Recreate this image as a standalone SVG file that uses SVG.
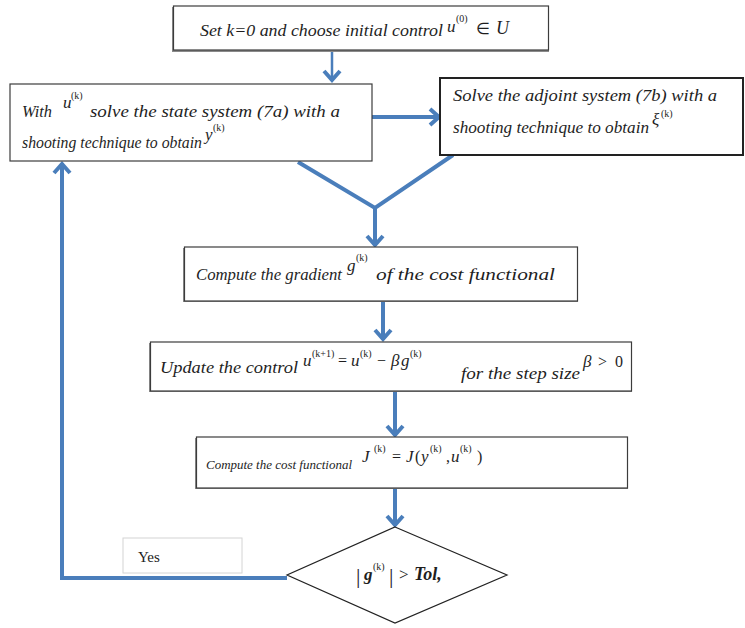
<svg xmlns="http://www.w3.org/2000/svg" width="745" height="628" viewBox="0 0 745 628">
  <defs>
    <style>
      .box{fill:#ffffff;stroke:#3c3c3c;stroke-width:1.2}
      .shadow{fill:#8a8a8a}
      .t{font-family:"Liberation Serif","Times New Roman",serif;font-style:italic;font-size:16px;fill:#1e1e1e}
      .m{font-family:"Liberation Serif","Times New Roman",serif;font-size:16px;fill:#1e1e1e}
      .mi{font-family:"Liberation Serif","Times New Roman",serif;font-style:italic;font-size:17px;fill:#1e1e1e}
      .sup{font-family:"Liberation Serif","Times New Roman",serif;font-size:10px;fill:#1e1e1e}
      .yes{font-family:"Liberation Serif","Times New Roman",serif;font-size:15px;fill:#222}
      .c{fill:none;stroke:#4A7EBB;stroke-width:4;stroke-linejoin:miter}
    </style>
    <marker id="arrow" markerUnits="userSpaceOnUse" viewBox="-14 -10 16 20" refX="0" refY="0" markerWidth="16" markerHeight="20" orient="auto">
      <path d="M-10,-8 L-1,0 L-10,8" fill="none" stroke="#4A7EBB" stroke-width="4"/>
    </marker>
  </defs>

  <!-- connectors -->
  <g id="connectors">
    <line class="c" x1="332" y1="50" x2="332" y2="81" style="stroke-width:2.5" marker-end="url(#arrow)"/>
    <line class="c" x1="372" y1="117" x2="440" y2="117" marker-end="url(#arrow)"/>
    <polyline class="c" points="298,162 375,208 453,155"/>
    <line class="c" x1="375" y1="208" x2="375" y2="246" marker-end="url(#arrow)"/>
    <line class="c" x1="383" y1="301" x2="383" y2="340" marker-end="url(#arrow)"/>
    <line class="c" x1="395" y1="391" x2="395" y2="436" marker-end="url(#arrow)"/>
    <line class="c" x1="395" y1="488" x2="395" y2="526" marker-end="url(#arrow)"/>
    <polyline class="c" points="287,578 62,578 62,163" marker-end="url(#arrow)"/>
  </g>

  <!-- start: initial control -->
  <g id="init">
    <rect class="shadow" x="172" y="7" width="377" height="45"/>
    <rect class="box" x="173.5" y="6" width="375" height="44"/>
    <text class="t" x="200" y="36" textLength="243" lengthAdjust="spacingAndGlyphs">Set k=0 and choose initial control</text>
    <text class="mi" x="447" y="32">u</text>
    <text class="sup" x="456" y="22">(0)</text>
    <text class="m" x="476" y="34">∈</text>
    <text class="mi" x="496" y="34" style="font-size:18px">U</text>
  </g>

  <!-- state system -->
  <g id="state">
    <rect class="box" x="10" y="84" width="362" height="77"/>
    <text class="t" x="22" y="117" textLength="30" lengthAdjust="spacingAndGlyphs">With</text>
    <text class="mi" x="63" y="108">u</text>
    <text class="sup" x="71" y="99">(k)</text>
    <text class="t" x="90" y="117" textLength="250" lengthAdjust="spacingAndGlyphs">solve the state system  (7a) with a</text>
    <text class="t" x="22" y="148" textLength="180" lengthAdjust="spacingAndGlyphs">shooting technique to obtain</text>
    <text class="mi" x="205" y="140">y</text>
    <text class="sup" x="213" y="131">(k)</text>
  </g>

  <!-- adjoint system -->
  <g id="adjoint">
    <rect class="box" x="440" y="78" width="303" height="77" style="stroke:#222;stroke-width:2"/>
    <text class="t" x="453" y="101" textLength="264" lengthAdjust="spacingAndGlyphs">Solve the adjoint system  (7b) with a</text>
    <text class="t" x="453" y="133" textLength="196" lengthAdjust="spacingAndGlyphs">shooting technique to obtain</text>
    <text class="mi" x="652" y="125">ξ</text>
    <text class="sup" x="661" y="117">(k)</text>
  </g>

  <!-- gradient -->
  <g id="gradient">
    <rect class="shadow" x="183" y="248" width="395" height="54"/>
    <rect class="box" x="184.5" y="247" width="393" height="54"/>
    <text class="t" x="196" y="280" textLength="146" lengthAdjust="spacingAndGlyphs">Compute the gradient</text>
    <text class="mi" x="347" y="271">g</text>
    <text class="sup" x="356" y="261">(k)</text>
    <text class="t" x="376" y="280" textLength="179" lengthAdjust="spacingAndGlyphs">of the cost functional</text>
  </g>

  <!-- control update -->
  <g id="update">
    <rect class="shadow" x="149" y="343" width="483" height="49"/>
    <rect class="box" x="150.5" y="342" width="481" height="49"/>
    <text class="t" x="160" y="373" textLength="138" lengthAdjust="spacingAndGlyphs">Update the control</text>
    <text class="mi" x="303" y="366">u</text>
    <text class="sup" x="312" y="357">(k+1)</text>
    <text class="m" x="338" y="366">=</text>
    <text class="mi" x="351" y="366">u</text>
    <text class="sup" x="360" y="357">(k)</text>
    <text class="m" x="377" y="366">−</text>
    <text class="mi" x="391" y="366">β</text>
    <text class="mi" x="401" y="366">g</text>
    <text class="sup" x="410" y="357">(k)</text>
    <text class="t" x="461" y="379" textLength="119" lengthAdjust="spacingAndGlyphs">for the step size</text>
    <text class="mi" x="583" y="367">β</text>
    <text class="m" x="598" y="367">&gt;</text>
    <text class="m" x="615" y="367">0</text>
  </g>

  <!-- cost functional -->
  <g id="cost">
    <rect class="shadow" x="195" y="438" width="433" height="51"/>
    <rect class="box" x="196.5" y="437" width="431" height="51"/>
    <text class="t" x="206" y="469" style="font-size:13.5px" textLength="146" lengthAdjust="spacingAndGlyphs">Compute the cost functional</text>
    <text class="mi" x="362" y="462">J</text>
    <text class="sup" x="374" y="452">(k)</text>
    <text class="m" x="392" y="462">=</text>
    <text class="mi" x="406" y="462">J</text>
    <text class="m" x="415" y="462">(</text>
    <text class="mi" x="421" y="462">y</text>
    <text class="sup" x="430" y="452">(k)</text>
    <text class="m" x="446" y="462">,</text>
    <text class="mi" x="451" y="462">u</text>
    <text class="sup" x="460" y="452">(k)</text>
    <text class="m" x="477" y="462">)</text>
  </g>

  <!-- stopping test -->
  <g id="decision">
    <polygon points="395,527 507,575 395,623 287,575" fill="#ffffff" stroke="#222" stroke-width="1.2"/>
    <text class="m" x="356" y="583" style="font-size:22px">|</text>
    <text class="mi" x="364" y="580" style="font-weight:bold">g</text>
    <text class="sup" x="373" y="570">(k)</text>
    <text class="m" x="389" y="583" style="font-size:22px">|</text>
    <text class="m" x="399" y="580" style="font-size:17px">&gt;</text>
    <text class="mi" x="414" y="580" style="font-weight:bold;font-size:18px">Tol,</text>
  </g>

  <!-- loop-back label -->
  <g id="yes">
    <rect x="123" y="538" width="119" height="35" fill="#ffffff" stroke="#d4d4d4" stroke-width="1"/>
    <text class="yes" x="138" y="562">Yes</text>
  </g>
</svg>
